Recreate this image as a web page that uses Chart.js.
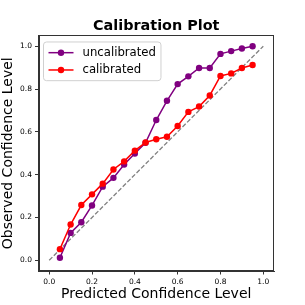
<!DOCTYPE html>
<html>
<head>
<meta charset="utf-8">
<script src="https://cdn.jsdelivr.net/npm/chart.js@4"></script>
<style>
html,body{margin:0;padding:0;background:#fff;}
canvas{display:block;}
</style>
</head>
<body>
<canvas id="c" width="305" height="305"></canvas>
<script>
// ---- data ----
const binCenters = [0.05,0.10,0.15,0.20,0.25,0.30,0.35,0.40,0.45,0.50,0.55,0.60,0.65,0.70,0.75,0.80,0.85,0.90,0.95];
const uncalibrated = [0.012,0.128,0.178,0.256,0.344,0.385,0.447,0.499,0.549,0.655,0.745,0.823,0.859,0.898,0.898,0.964,0.977,0.989,1.000];
const calibrated   = [0.052,0.167,0.258,0.308,0.358,0.424,0.462,0.512,0.550,0.565,0.577,0.627,0.693,0.718,0.770,0.861,0.873,0.898,0.912];
const diagX = [0, 1];
const diagY = [0, 1];
const tickValues = [0.0, 0.2, 0.4, 0.6, 0.8, 1.0];
const seriesLabels = ['uncalibrated', 'calibrated'];
const chartTitle = 'Calibration Plot';
const xAxisTitle = 'Predicted Confidence Level';
const yAxisTitle = 'Observed Confidence Level';

const FONT = "'DejaVu Sans', sans-serif";
const toPoints = (xs, ys) => xs.map((x, i) => ({x: x, y: ys[i]}));

// frame (top/right spines)
const framePlugin = {
  id: 'frame',
  afterDatasetsDraw(chart) {
    const a = chart.chartArea, ctx = chart.ctx;
    ctx.save();
    ctx.strokeStyle = '#333';
    ctx.lineWidth = 1;
    ctx.strokeRect(Math.round(a.left) + 0.5, Math.round(a.top) + 0.5,
                   Math.round(a.right) - Math.round(a.left) - 1, Math.round(a.bottom) - Math.round(a.top) - 1);
    ctx.restore();
  }
};

// legend inside plot area (upper left)
const innerLegend = {
  id: 'innerLegend',
  afterDraw(chart) {
    const a = chart.chartArea, ctx = chart.ctx;
    const items = chart.data.datasets.filter(d => d.label);
    ctx.save();
    ctx.font = "11.7px " + FONT;
    let maxW = 0;
    items.forEach(d => { maxW = Math.max(maxW, ctx.measureText(d.label).width); });
    const x0 = a.left + 5, y0 = a.top + 6.5;
    const w = 5 + 25 + 9 + maxW + 5, h = 38.7;
    ctx.beginPath();
    ctx.roundRect(x0, y0, w, h, 3);
    ctx.fillStyle = 'rgba(255,255,255,0.8)';
    ctx.fill();
    ctx.strokeStyle = '#d0d0d0';
    ctx.lineWidth = 1;
    ctx.stroke();
    items.forEach((d, i) => {
      const cy = y0 + 10.7 + i * 17.3;
      ctx.strokeStyle = d.borderColor;
      ctx.lineWidth = 1.5;
      ctx.beginPath();
      ctx.moveTo(x0 + 5, cy);
      ctx.lineTo(x0 + 30, cy);
      ctx.stroke();
      ctx.fillStyle = d.borderColor;
      ctx.beginPath();
      ctx.arc(x0 + 17.5, cy, 3.2, 0, Math.PI * 2);
      ctx.fill();
      ctx.fillStyle = '#000';
      ctx.textBaseline = 'middle';
      ctx.textAlign = 'left';
      ctx.fillText(d.label, x0 + 39, cy);
    });
    ctx.restore();
  }
};

const axisCommon = (titleText, titlePad) => ({
  type: 'linear',
  min: -0.05,
  max: 1.05,
  afterBuildTicks: s => { s.ticks = tickValues.map(v => ({value: v})); },
  ticks: {
    font: {size: 7.5, family: FONT},
    color: '#000',
    padding: 3,
    autoSkip: false,
    maxRotation: 0,
    callback: v => Number(v).toFixed(1)
  },
  grid: {
    display: true,
    drawOnChartArea: false,
    drawTicks: true,
    tickLength: 3.5,
    tickColor: '#000',
    tickWidth: 0.8
  },
  border: {display: true, color: '#333', width: 1},
  title: {
    display: true,
    text: titleText,
    color: '#000',
    font: {size: 14, family: FONT},
    padding: titlePad
  }
});

const xScale = axisCommon(xAxisTitle, {top: 0, bottom: 2.6});
xScale.afterFit = s => { s.height = 34; };
const yScale = axisCommon(yAxisTitle, {top: 0, bottom: 0});
yScale.afterFit = s => { s.width = 38.5; };

new Chart(document.getElementById('c'), {
  type: 'line',
  data: {
    datasets: [
      {
        label: seriesLabels[0],
        data: toPoints(binCenters, uncalibrated),
        borderColor: '#800080',
        backgroundColor: '#800080',
        borderWidth: 1.5,
        pointRadius: 3.2,
        pointBorderWidth: 0,
        pointBackgroundColor: '#800080',
        tension: 0,
        order: 2
      },
      {
        label: seriesLabels[1],
        data: toPoints(binCenters, calibrated),
        borderColor: '#ff0000',
        backgroundColor: '#ff0000',
        borderWidth: 1.5,
        pointRadius: 3.2,
        pointBorderWidth: 0,
        pointBackgroundColor: '#ff0000',
        tension: 0,
        order: 1
      },
      {
        label: '',
        data: toPoints(diagX, diagY),
        borderColor: '#808080',
        borderWidth: 1.3,
        borderDash: [4.5, 2],
        pointRadius: 0,
        tension: 0,
        order: 3
      }
    ]
  },
  options: {
    responsive: false,
    animation: false,
    parsing: true,
    layout: {padding: {left: 0, right: 31, top: 0, bottom: 0}},
    plugins: {
      legend: {display: false},
      tooltip: {enabled: false},
      title: {
        display: true,
        fullSize: false,
        text: chartTitle,
        color: '#000',
        font: {size: 14.4, weight: 'bold', family: FONT},
        padding: {top: 17.6, bottom: 0.6}
      }
    },
    scales: {x: xScale, y: yScale}
  },
  plugins: [framePlugin, innerLegend]
});
</script>
</body>
</html>
